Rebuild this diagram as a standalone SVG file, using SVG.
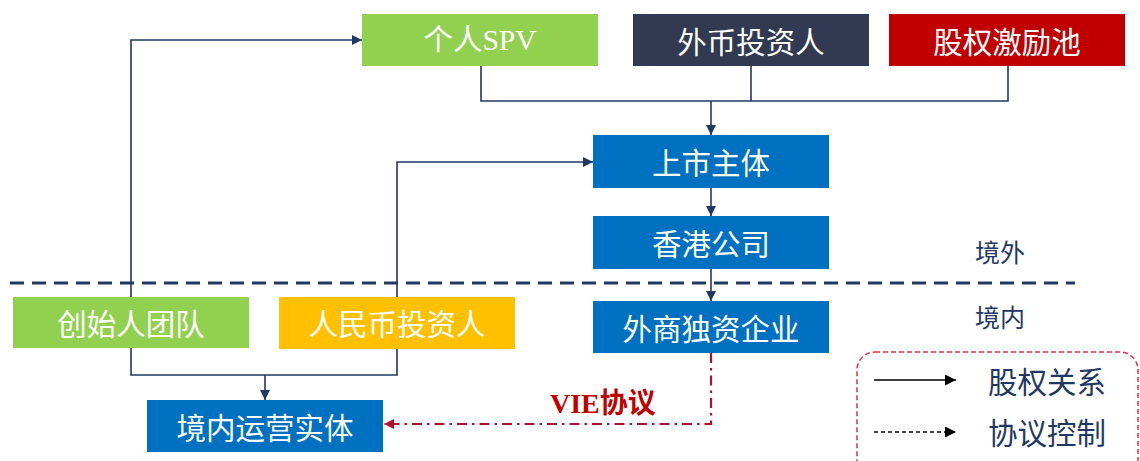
<svg xmlns="http://www.w3.org/2000/svg" width="1140" height="461" viewBox="0 0 1140 461">
<style>
.box text{font-family:"Noto Sans CJK SC","Liberation Sans",sans-serif;font-size:29.5px;fill:#fff;text-anchor:middle;dominant-baseline:central}
.lbl{font-family:"Noto Sans CJK SC","Liberation Sans",sans-serif;fill:#1F3864;dominant-baseline:central}
.c{fill:none;stroke:#1F3864;stroke-width:1.6}
</style>
<defs>
<marker id="ah" viewBox="0 0 10 10" refX="10" refY="5" markerWidth="11" markerHeight="10" markerUnits="userSpaceOnUse" orient="auto"><path d="M0,0L10,5L0,10z" fill="#1F3864"/></marker>
<marker id="ahb" viewBox="0 0 10 10" refX="10" refY="5" markerWidth="12" markerHeight="11" markerUnits="userSpaceOnUse" orient="auto"><path d="M0,0L10,5L0,10z" fill="#000"/></marker>
<marker id="ahr" viewBox="0 0 10 10" refX="10" refY="5" markerWidth="11" markerHeight="10" markerUnits="userSpaceOnUse" orient="auto"><path d="M0,0L10,5L0,10z" fill="#B01030"/></marker>
</defs>
<rect width="1140" height="461" fill="#fff"/>
<g id="connectors">
<line x1="10" y1="283" x2="1075" y2="283" stroke="#1F3864" stroke-width="3" stroke-dasharray="14 8"/>
<polyline class="c" points="481,66 481,101 1008,101 1008,66"/>
<line class="c" x1="751" y1="66" x2="751" y2="101"/>
<line class="c" x1="711" y1="101" x2="711" y2="135" marker-end="url(#ah)"/>
<line class="c" x1="711" y1="188" x2="711" y2="216" marker-end="url(#ah)"/>
<line class="c" x1="711" y1="269" x2="711" y2="301" marker-end="url(#ah)"/>
<polyline class="c" points="131,297 131,40 362,40" marker-end="url(#ah)"/>
<polyline class="c" points="397,297 397,162 593,162" marker-end="url(#ah)"/>
<polyline class="c" points="131,348 131,375 397,375 397,349"/>
<line class="c" x1="265" y1="375" x2="265" y2="400" marker-end="url(#ah)"/>
<polyline points="711,353 711,424 384,424" fill="none" stroke="#B01030" stroke-width="2.2" stroke-dasharray="10 5 2.5 5" marker-end="url(#ahr)"/>
<text x="550" y="403" font-family="'Liberation Serif','Noto Sans CJK SC',serif" font-size="28" font-weight="bold" fill="#C00000" dominant-baseline="central">VIE协议</text>
</g>
<g id="spv" class="box"><rect x="362" y="14" width="236" height="52" fill="#92D050"/><text x="480" y="40" style="font-family:'Liberation Serif','Noto Sans CJK SC',serif">个人SPV</text></g>
<g id="fx-investor" class="box"><rect x="633" y="14" width="236" height="52" fill="#323A52"/><text x="751" y="40">外币投资人</text></g>
<g id="esop" class="box"><rect x="889" y="14" width="236" height="52" fill="#C00000"/><text x="1007" y="40">股权激励池</text></g>
<g id="listco" class="box"><rect x="593" y="135" width="236" height="53" fill="#0070C0"/><text x="711" y="161">上市主体</text></g>
<g id="hk" class="box"><rect x="593" y="216" width="236" height="53" fill="#0070C0"/><text x="711" y="242">香港公司</text></g>
<g id="wfoe" class="box"><rect x="593" y="301" width="236" height="52" fill="#0070C0"/><text x="711" y="327">外商独资企业</text></g>
<g id="founders" class="box"><rect x="13" y="297" width="236" height="51" fill="#92D050"/><text x="131" y="322">创始人团队</text></g>
<g id="rmb-investor" class="box"><rect x="279" y="297" width="236" height="52" fill="#FFC000"/><text x="397" y="322">人民币投资人</text></g>
<g id="opco" class="box"><rect x="147" y="400" width="236" height="52" fill="#0070C0"/><text x="265" y="426">境内运营实体</text></g>
<g id="region-labels">
<text class="lbl" x="975" y="251" font-size="25">境外</text>
<text class="lbl" x="975" y="316" font-size="25">境内</text>
</g>
<g id="legend">
<rect x="857" y="352" width="281" height="140" rx="18" fill="none" stroke="#E0303F" stroke-width="1.5" stroke-dasharray="5 3"/>
<line x1="874" y1="380" x2="956" y2="380" stroke="#000" stroke-width="1.5" marker-end="url(#ahb)"/>
<text class="lbl" x="988" y="380" font-size="29.5">股权关系</text>
<line x1="874" y1="432" x2="956" y2="432" stroke="#000" stroke-width="1.5" stroke-dasharray="4 3" marker-end="url(#ahb)"/>
<text class="lbl" x="988" y="431" font-size="29.5">协议控制</text>
</g>
</svg>
